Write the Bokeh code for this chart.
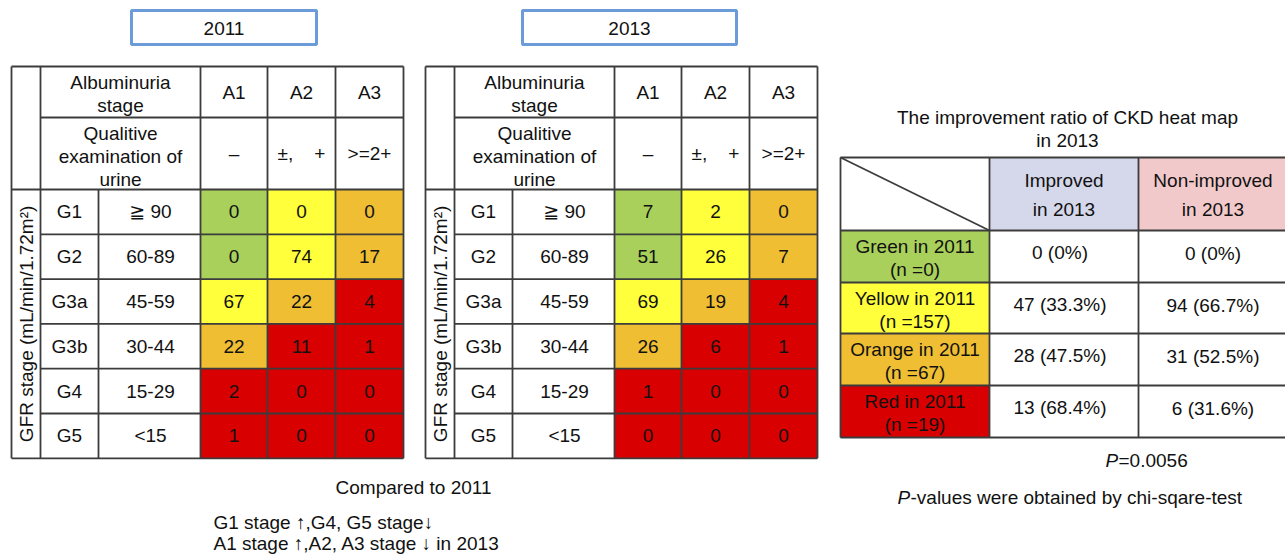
from bokeh.plotting import figure
from bokeh.models import Range1d
from bokeh.embed import file_html
from bokeh.resources import INLINE
from bokeh.core.properties import value
import numpy as np

# ---------------- data ----------------
years = ["2011", "2013"]
gfr_stages = ["G1", "G2", "G3a", "G3b", "G4", "G5"]
gfr_ranges = ["\u2267 90", "60-89", "45-59", "30-44", "15-29", "<15"]
alb_stages = ["A1", "A2", "A3"]
qual_labels = ["\u2013", "\u00b1,\u00a0\u00a0\u00a0\u00a0+", ">=2+"]
counts_2011 = [[0, 0, 0], [0, 74, 17], [67, 22, 4], [22, 11, 1], [2, 0, 0], [1, 0, 0]]
counts_2013 = [[7, 2, 0], [51, 26, 7], [69, 19, 4], [26, 6, 1], [1, 0, 0], [0, 0, 0]]
risk = [["green", "yellow", "orange"],
        ["green", "yellow", "orange"],
        ["yellow", "orange", "red"],
        ["orange", "red", "red"],
        ["red", "red", "red"],
        ["red", "red", "red"]]
groups = ["Green", "Yellow", "Orange", "Red"]
group_n = [0, 157, 67, 19]
improved_n = [0, 47, 28, 13]
improved_pct = ["0", "33.3", "47.5", "68.4"]
nonimproved_n = [0, 94, 31, 6]
nonimproved_pct = ["0", "66.7", "52.5", "31.6"]
outcome_cols = ["Improved", "Non-improved"]

palette = {"green": "#a8d05b", "yellow": "#ffff3c", "orange": "#efbe33", "red": "#d80000"}
outcome_fill = ["#d5d7ea", "#f2c9cb"]

FONT = value("Liberation Sans, DejaVu Sans")
FS = "19px"
LINE = "#3c3c3c"
TXT = "#111111"

p = figure(width=1285, height=559, output_backend="svg", toolbar_location=None,
           x_range=Range1d(0, 1285), y_range=Range1d(559, 0), min_border=0)
p.axis.visible = False
p.grid.visible = False
p.outline_line_color = None
p.background_fill_color = "white"


def txt(xs, ys, texts, align="center", style="normal", size=FS, angle=0):
    p.text(x=list(xs), y=list(ys), text=list(texts), text_font=FONT, text_font_size=size,
           text_align=align, text_baseline="middle", text_color=TXT,
           text_font_style=style, angle=angle)


# ---------------- heat map tables ----------------
rel_cols = [0, 29, 87, 189, 256, 324, 392]
origins = [11, 425]
y_top, y_hdr, y_data = 66, 117, 189
row_h = 44.8
tables = [counts_2011, counts_2013]
boxes = [(131, 316), (522, 736)]

for t, (x0, counts) in enumerate(zip(origins, tables)):
    cx = [x0 + c for c in rel_cols]
    ry = [y_data + i * row_h for i in range(len(gfr_stages) + 1)]
    # year box
    bl, br = boxes[t]
    p.quad(left=[bl], right=[br], top=[10], bottom=[44], fill_color="white",
           line_color="#6b9bd8", line_width=3)
    txt([(bl + br) / 2], [27.5], [years[t]])
    # coloured cells
    L, R, T, B, C = [], [], [], [], []
    for i in range(len(gfr_stages)):
        for j in range(len(alb_stages)):
            L.append(cx[3 + j]); R.append(cx[4 + j])
            T.append(ry[i]); B.append(ry[i + 1])
            C.append(palette[risk[i][j]])
    p.quad(left=L, right=R, top=T, bottom=B, fill_color=C, line_color=None)
    # grid lines
    sx0, sy0, sx1, sy1 = [], [], [], []
    def seg(a, b, c, d):
        sx0.append(a); sy0.append(b); sx1.append(c); sy1.append(d)
    seg(cx[0], y_top, cx[6], y_top)
    seg(cx[1], y_hdr, cx[6], y_hdr)
    seg(cx[0], ry[0], cx[6], ry[0])
    for yy in ry[1:-1]:
        seg(cx[1], yy, cx[6], yy)
    seg(cx[0], ry[-1], cx[6], ry[-1])
    for k in [0, 1, 3, 4, 5, 6]:
        seg(cx[k], y_top, cx[k], ry[-1])
    seg(cx[2], ry[0], cx[2], ry[-1])
    p.segment(x0=sx0, y0=sy0, x1=sx1, y1=sy1, line_color=LINE, line_width=1.8)
    # header texts
    hx = (cx[1] + cx[3]) / 2
    txt([hx, hx], [82, 105], ["Albuminuria", "stage"])
    txt([hx, hx, hx], [133, 156, 179], ["Qualitive", "examination of", "urine"])
    acx = [(cx[3 + j] + cx[4 + j]) / 2 for j in range(3)]
    txt(acx, [92] * 3, alb_stages)
    txt(acx, [153] * 3, qual_labels)
    # row labels
    rcy = [(ry[i] + ry[i + 1]) / 2 for i in range(len(gfr_stages))]
    txt([(cx[1] + cx[2]) / 2] * 6, rcy, gfr_stages)
    txt([(cx[2] + cx[3]) / 2 + 1] * 6, rcy, gfr_ranges)
    # values
    vx, vy, vt = [], [], []
    for i in range(len(gfr_stages)):
        for j in range(3):
            vx.append(acx[j]); vy.append(rcy[i]); vt.append(str(counts[i][j]))
    txt(vx, vy, vt)
    # rotated GFR label
    txt([(cx[0] + cx[1]) / 2], [(ry[0] + ry[-1]) / 2], ["GFR stage (mL/min/1.72m\u00b2)"],
        angle=np.pi / 2)

# ---------------- improvement table ----------------
tc = [840, 989, 1138, 1295]
tr = [157, 230, 282, 333, 385, 437]
txt([1067, 1067], [117, 140], ["The improvement ratio of CKD heat map", "in 2013"])
p.quad(left=tc[1:3], right=tc[2:4], top=[tr[0]] * 2, bottom=[tr[1]] * 2,
       fill_color=outcome_fill, line_color=None)
p.quad(left=[tc[0]] * 4, right=[tc[1]] * 4, top=tr[1:5], bottom=tr[2:6],
       fill_color=[palette[g.lower()] for g in groups], line_color=None)
sx0, sy0, sx1, sy1 = [], [], [], []
for yy in tr:
    sx0.append(tc[0]); sy0.append(yy); sx1.append(tc[3]); sy1.append(yy)
for xx in tc[:3]:
    sx0.append(xx); sy0.append(tr[0]); sx1.append(xx); sy1.append(tr[-1])
sx0.append(tc[0]); sy0.append(tr[0]); sx1.append(tc[1]); sy1.append(tr[1])
p.segment(x0=sx0, y0=sy0, x1=sx1, y1=sy1, line_color=LINE, line_width=1.8)

ocx = [(tc[1] + tc[2]) / 2, (tc[2] + tc[3]) / 2 - 4]
txt(ocx, [180, 180], outcome_cols)
txt(ocx, [209, 209], ["in 2013", "in 2013"])
gcy = [(tr[k + 1] + tr[k + 2]) / 2 for k in range(4)]
gx = (tc[0] + tc[1]) / 2
txt([gx] * 4, [c - 10 for c in gcy], [g + " in 2011" for g in groups])
txt([gx] * 4, [c + 13 for c in gcy], ["(n =%d)" % n for n in group_n])
txt([ocx[0] - 4] * 4, [c - 4 for c in gcy],
    ["%d (%s%%)" % (n, q) for n, q in zip(improved_n, improved_pct)])
txt([ocx[1]] * 4, [c - 3 for c in gcy],
    ["%d (%s%%)" % (n, q) for n, q in zip(nonimproved_n, nonimproved_pct)])

# p-value notes
txt([1105], [460], ["P"], align="left", style="italic")
txt([1118], [460], ["=0.0056"], align="left")
txt([897], [497], ["P"], align="left", style="italic")
txt([910], [497], ["-values were obtained by chi-sqare-test"], align="left")

# bottom notes
txt([413], [487], ["Compared to 2011"])
txt([213, 213], [522, 543], ["G1 stage \u2191,G4, G5 stage\u2193",
                             "A1 stage \u2191,A2, A3 stage \u2193 in 2013"], align="left")

open("out.html", "w").write(file_html(p, INLINE))
